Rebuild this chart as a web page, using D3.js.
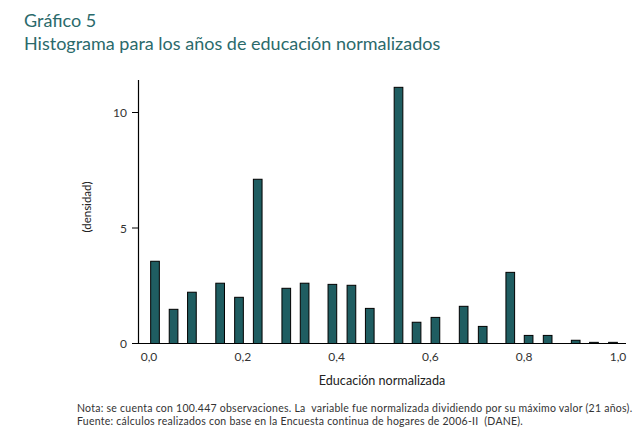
<!DOCTYPE html>
<html>
<head>
<meta charset="utf-8">
<script src="https://cdn.jsdelivr.net/npm/d3@7/dist/d3.min.js"></script>
<style>
  html, body { margin: 0; padding: 0; background: #fff; }
  svg { display: block; }
</style>
</head>
<body>
<svg id="chart" width="640" height="436"></svg>
<script>
// Bin centres (normalised education) and densities
const binCenters = [0.0128, 0.0524, 0.0915, 0.1517, 0.1919, 0.2318, 0.2927, 0.3318, 0.391, 0.4316, 0.4707,
                    0.532, 0.5705, 0.6107, 0.6709, 0.7115, 0.7703, 0.8094, 0.85, 0.9098, 0.9487, 0.9893];
const densities  = [3.56, 1.48, 2.22, 2.61, 2.0, 7.11, 2.39, 2.61, 2.56, 2.52, 1.52,
                    11.09, 0.92, 1.13, 1.61, 0.74, 3.08, 0.35, 0.35, 0.14, 0.05, 0.05];
const binWidth = 0.0185;
const xTicks = [0, 0.2, 0.4, 0.6, 0.8, 1.0];
const yTicks = [0, 5, 10];

const svg = d3.select("#chart");
const font = "Lato, 'Open Sans', sans-serif";
const teal = "#1f5d61";

const x = d3.scaleLinear().domain([0, 1]).range([149, 618]);
const y = d3.scaleLinear().domain([0, 10]).range([343.5, 112.5]);

// Titles
svg.append("text").attr("x", 24).attr("y", 27).attr("font-family", font).attr("font-size", 18)
  .attr("fill", "#2b6a6b").text("Gráfico 5");
svg.append("text").attr("x", 24).attr("y", 50).attr("font-family", font).attr("font-size", 18)
  .attr("fill", "#2b6a6b").text("Histograma para los años de educación normalizados");

// Bars
svg.append("g").selectAll("rect").data(binCenters).join("rect")
  .attr("x", (d) => x(d - binWidth / 2))
  .attr("width", x(binWidth) - x(0))
  .attr("y", (d, i) => y(densities[i]))
  .attr("height", (d, i) => y(0) - y(densities[i]))
  .attr("fill", teal).attr("stroke", "#000").attr("stroke-width", 1);

// Axes lines
svg.append("line").attr("x1", 138.5).attr("x2", 138.5).attr("y1", 80).attr("y2", 344)
  .attr("stroke", "#000").attr("stroke-width", 1.2);
svg.append("line").attr("x1", 138).attr("x2", 626).attr("y1", 343.5).attr("y2", 343.5)
  .attr("stroke", "#000").attr("stroke-width", 1.2);

// Y axis ticks
const yg = svg.append("g").attr("font-family", font).attr("font-size", 12).attr("fill", "#333");
yg.selectAll("line").data(yTicks).join("line")
  .attr("x1", 132).attr("x2", 138.5).attr("y1", (d) => y(d)).attr("y2", (d) => y(d))
  .attr("stroke", "#000");
yg.selectAll("text").data(yTicks).join("text")
  .attr("x", 127).attr("y", (d) => y(d) + 4.5).attr("text-anchor", "end")
  .attr("fill", "#333").text((d) => d);

// X tick labels
const fmt = (d) => d.toFixed(1).replace(".", ",");
svg.append("g").selectAll("text").data(xTicks).join("text")
  .attr("x", (d) => x(d)).attr("y", 361).attr("text-anchor", "middle")
  .attr("font-family", font).attr("font-size", 12).attr("fill", "#333").text(fmt);

// Axis titles
svg.append("text").attr("x", 382).attr("y", 385).attr("text-anchor", "middle")
  .attr("font-family", font).attr("font-size", 12.6).attr("fill", "#222").text("Educación normalizada");
svg.append("text").attr("transform", "translate(91,207) rotate(-90)").attr("text-anchor", "middle")
  .attr("font-family", font).attr("font-size", 11.5).attr("fill", "#222").text("(densidad)");

// Notes
svg.append("text").attr("x", 77).attr("y", 412).attr("font-family", font).attr("font-size", 10.5)
  .attr("letter-spacing", 0.25).attr("fill", "#333").attr("xml:space", "preserve")
  .text("Nota: se cuenta con 100.447 observaciones. La  variable fue normalizada dividiendo por su máximo valor (21 años).");
svg.append("text").attr("x", 77).attr("y", 425).attr("font-family", font).attr("font-size", 10.5)
  .attr("letter-spacing", 0.25).attr("fill", "#333").attr("xml:space", "preserve")
  .text("Fuente: cálculos realizados con base en la Encuesta continua de hogares de 2006-II  (DANE).");
</script>
</body>
</html>
